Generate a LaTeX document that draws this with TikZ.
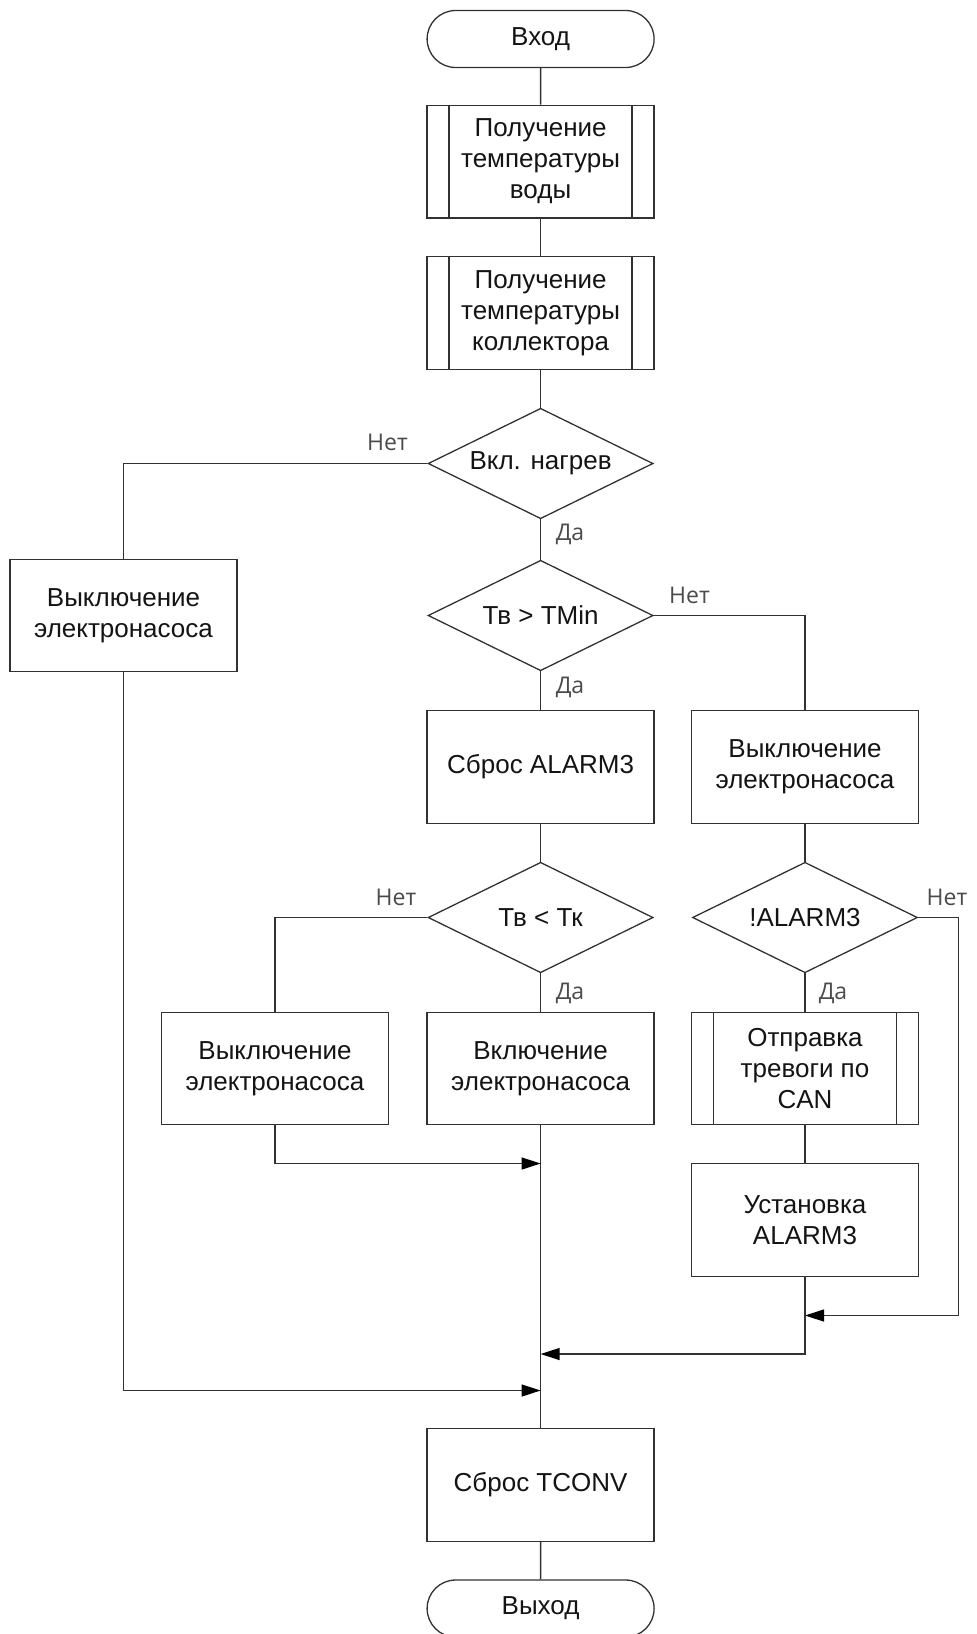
\documentclass[tikz,border=0pt]{standalone}
\usepackage{fontspec}
\setmainfont{Liberation Sans}
\newfontfamily\lblfont{Open Sans}
\usetikzlibrary{shapes.geometric,shapes.misc,arrows.meta}
\definecolor{ln}{RGB}{50,50,50}
\definecolor{tx}{RGB}{20,20,20}
\definecolor{lb}{RGB}{75,75,75}
\begin{document}
\begin{tikzpicture}[x=1pt,y=-1pt,
  every node/.style={font=\fontsize{26}{31}\selectfont, text=tx},
  base/.style={draw=ln, line width=1.3pt, fill=white, align=center, inner sep=0pt},
  procbox/.style={base, rectangle, minimum width=227pt, minimum height=112.5pt},
  subproc/.style={procbox, path picture={
      \draw[ln, line width=1.3pt]
        ([xshift=22pt]path picture bounding box.north west) -- ([xshift=22pt]path picture bounding box.south west)
        ([xshift=-22pt]path picture bounding box.north east) -- ([xshift=-22pt]path picture bounding box.south east);}},
  terminal/.style={base, rounded rectangle, minimum width=227pt, minimum height=57pt},
  decision/.style={base, diamond, aspect=2.04, minimum width=225pt, minimum height=110.5pt},
  conn/.style={draw=ln, line width=1.3pt},
  arr/.style={conn, -{Triangle[length=19pt,width=12pt,color=black]}},
  lbl/.style={font=\lblfont\fontsize{23}{27}\selectfont, text=lb, inner sep=0pt}
]
\useasboundingbox (0,0) rectangle (977,1634);

% main column
\node[terminal] (start) at (540.6,39) {Вход};
\node[subproc] (tw) at (540.6,161.6) {Получение\\температуры\\воды};
\node[subproc] (tk) at (540.6,313) {Получение\\температуры\\коллектора};
\node[decision] (heat) at (540.6,463.5) {Вкл. нагрев};
\node[decision] (tmin) at (540.6,615.5) {Тв > TMin};
\node[procbox] (rstA) at (540.6,767) {Сброс ALARM3};
\node[decision] (cmp) at (540.6,917.5) {Тв < Тк};
\node[procbox] (pumpOn) at (540.6,1068.5) {Включение\\электронасоса};
\node[procbox] (rstT) at (540.6,1485) {Сброс TCONV};
\node[terminal] (stop) at (540.6,1608.5) {Выход};

% side branches
\node[procbox] (offL) at (123.5,615.5) {Выключение\\электронасоса};
\node[procbox] (offM) at (275,1068.5) {Выключение\\электронасоса};
\node[procbox] (offR) at (805,767) {Выключение\\электронасоса};
\node[decision] (alarm) at (805,917.5) {!ALARM3};
\node[subproc] (can) at (805,1068.5) {Отправка\\тревоги по\\CAN};
\node[procbox] (setA) at (805,1220) {Установка\\ALARM3};

% junction points on the main line
\coordinate (j0) at (540.6,1163.5);
\coordinate (jR) at (805,1315.5);
\coordinate (j1) at (540.6,1354);
\coordinate (j2) at (540.6,1390.5);

% straight flow
\draw[conn] (start) -- (tw);
\draw[conn] (tw) -- (tk);
\draw[conn] (tk) -- (heat);
\draw[conn] (heat) -- (tmin);
\draw[conn] (tmin) -- (rstA);
\draw[conn] (rstA) -- (cmp);
\draw[conn] (cmp) -- (pumpOn);
\draw[conn] (pumpOn) -- (rstT);
\draw[conn] (rstT) -- (stop);
\draw[conn] (offR) -- (alarm);
\draw[conn] (alarm) -- (can);
\draw[conn] (can) -- (setA);

% branches
\draw[conn] (heat.west) -| (offL.north);
\draw[conn] (tmin.east) -| (offR.north);
\draw[conn] (cmp.west) -| (offM.north);
\draw[arr] (alarm.east) -- ++(40,0) |- (jR);
\draw[arr] (offM.south) |- (j0);
\draw[arr] (setA.south) |- (j1);
\draw[arr] (offL.south) |- (j2);

% branch labels
\node[lbl] at (387.5,442) {Нет};
\node[lbl] at (570,534) {Да};
\node[lbl] at (689.5,595) {Нет};
\node[lbl] at (570,687) {Да};
\node[lbl] at (396,897) {Нет};
\node[lbl] at (570,993) {Да};
\node[lbl] at (947,897) {Нет};
\node[lbl] at (833,993) {Да};
\end{tikzpicture}
\end{document}
